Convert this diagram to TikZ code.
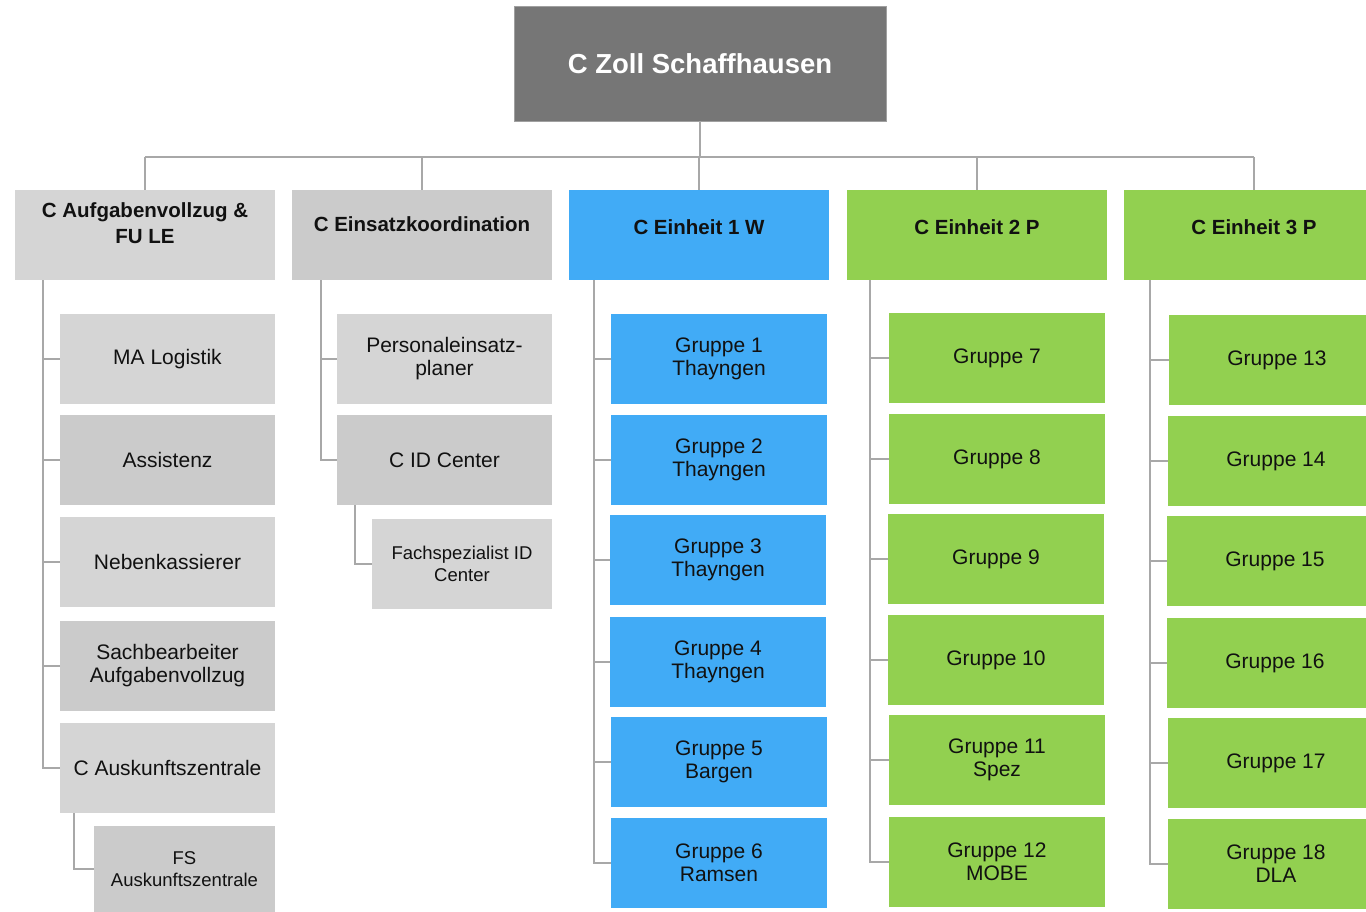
\documentclass[tikz,border=0pt]{standalone}
\usepackage{fontspec}
\setmainfont{Liberation Sans}
\definecolor{topgray}{HTML}{767676}
\definecolor{topline}{HTML}{A0A0A0}
\definecolor{gl}{HTML}{D5D5D5}
\definecolor{gd}{HTML}{CBCBCB}
\definecolor{blu}{HTML}{41ABF6}
\definecolor{grn}{HTML}{92D050}
\definecolor{linegray}{HTML}{A8A8A8}
\definecolor{txt}{HTML}{111111}
\begin{document}
\begin{tikzpicture}[x=1pt,y=-1pt,
  conn/.style={draw=linegray, line width=1.7pt},
  topbox/.style={rectangle, inner sep=0pt, minimum width=372pt, minimum height=115pt,
    fill=topgray, draw=topline, line width=0.8pt, text=white,
    font=\bfseries\fontsize{27.5}{32}\selectfont},
  lvl/.style={rectangle, inner sep=0pt, minimum width=260pt, minimum height=90pt,
    align=center, text=txt, font=\bfseries\fontsize{20.5}{26}\selectfont},
  kid/.style={rectangle, inner sep=0pt, minimum width=216pt, minimum height=90pt,
    align=center, text=txt, font=\fontsize{21}{23}\selectfont},
  small/.style={font=\fontsize{18.5}{22}\selectfont}
]
\useasboundingbox (0,0) rectangle (1366,911);
\clip (0,0) rectangle (1366,911);

% top
\node[topbox] (top) at (700,63.5) {C Zoll Schaffhausen};

% level 1
\node[lvl, fill=gl] (A) at (145,235) {C Aufgabenvollzug \&\\FU LE\\[-2pt]\mbox{}};
\node[lvl, fill=gd, text depth=22pt] (B) at (422,235) {C Einsatzkoordination};
\node[lvl, fill=blu, text depth=15pt] (C) at (699,235) {C Einheit 1 W};
\node[lvl, fill=grn, text depth=15pt] (D) at (977,235) {C Einheit 2 P};
\node[lvl, fill=grn, text depth=15pt] (E) at (1254,235) {C Einheit 3 P};

% column A
\node[kid, fill=gl, minimum width=215pt] (a1) at (167.5,359) {MA Logistik};
\node[kid, fill=gd, minimum width=215pt] (a2) at (167.5,460) {Assistenz};
\node[kid, fill=gl, minimum width=215pt] (a3) at (167.5,562) {Nebenkassierer};
\node[kid, fill=gd, minimum width=215pt] (a4) at (167.5,666) {Sachbearbeiter\\Aufgabenvollzug};
\node[kid, fill=gl, minimum width=215pt] (a5) at (167.5,768) {C Auskunftszentrale};
\node[kid, small, fill=gd, minimum width=181pt, minimum height=86pt] (a6) at (184.5,869) {FS\\Auskunftszentrale};

% column B
\node[kid, fill=gl, minimum width=215pt] (b1) at (444.5,359) {Personaleinsatz-\\planer};
\node[kid, fill=gd, minimum width=215pt] (b2) at (444.5,460) {C ID Center};
\node[kid, small, fill=gl, minimum width=180pt] (b3) at (462,564) {Fachspezialist ID\\Center};

% column C (blue)
\node[kid, fill=blu] (c1) at (719,359) {Gruppe 1\\Thayngen};
\node[kid, fill=blu] (c2) at (719,460) {Gruppe 2\\Thayngen};
\node[kid, fill=blu] (c3) at (718,560) {Gruppe 3\\Thayngen};
\node[kid, fill=blu] (c4) at (718,662) {Gruppe 4\\Thayngen};
\node[kid, fill=blu] (c5) at (719,762) {Gruppe 5\\Bargen};
\node[kid, fill=blu] (c6) at (719,863) {Gruppe 6\\Ramsen};

% column D (green)
\node[kid, fill=grn] (d1) at (997,358) {Gruppe 7};
\node[kid, fill=grn] (d2) at (997,459) {Gruppe 8};
\node[kid, fill=grn] (d3) at (996,559) {Gruppe 9};
\node[kid, fill=grn] (d4) at (996,660) {Gruppe 10};
\node[kid, fill=grn] (d5) at (997,760) {Gruppe 11\\Spez};
\node[kid, fill=grn] (d6) at (997,862) {Gruppe 12\\MOBE};

% column E (green)
\node[kid, fill=grn] (e1) at (1277,360) {Gruppe 13};
\node[kid, fill=grn] (e2) at (1276,461) {Gruppe 14};
\node[kid, fill=grn] (e3) at (1275,561) {Gruppe 15};
\node[kid, fill=grn] (e4) at (1275,663) {Gruppe 16};
\node[kid, fill=grn] (e5) at (1276,763) {Gruppe 17};
\node[kid, fill=grn] (e6) at (1276,864) {Gruppe 18\\DLA};

% bus
\coordinate (bus) at (0,157);
\draw[conn] (top.south) -- (top.south |- bus);
\draw[conn] (A.north |- bus) -- (E.north |- bus);
\foreach \n in {A,B,C,D,E} \draw[conn] (\n.north |- bus) -- (\n.north);

% spines
\coordinate (sA) at (43,280);
\coordinate (sA6) at (74,813);
\coordinate (sB) at (321,280);
\coordinate (sB3) at (355,505);
\coordinate (sC) at (594,280);
\coordinate (sD) at (870,280);
\coordinate (sE) at (1150,280);

\draw[conn] (sA) |- (a5.west);
\foreach \k in {a1,a2,a3,a4} \draw[conn] (sA |- \k.west) -- (\k.west);
\draw[conn] (sA6) |- (a6.west);

\draw[conn] (sB) |- (b2.west);
\draw[conn] (sB |- b1.west) -- (b1.west);
\draw[conn] (sB3) |- (b3.west);

\draw[conn] (sC) |- (c6.west);
\foreach \k in {c1,c2,c3,c4,c5} \draw[conn] (sC |- \k.west) -- (\k.west);

\draw[conn] (sD) |- (d6.west);
\foreach \k in {d1,d2,d3,d4,d5} \draw[conn] (sD |- \k.west) -- (\k.west);

\draw[conn] (sE) |- (e6.west);
\foreach \k in {e1,e2,e3,e4,e5} \draw[conn] (sE |- \k.west) -- (\k.west);
\end{tikzpicture}
\end{document}
